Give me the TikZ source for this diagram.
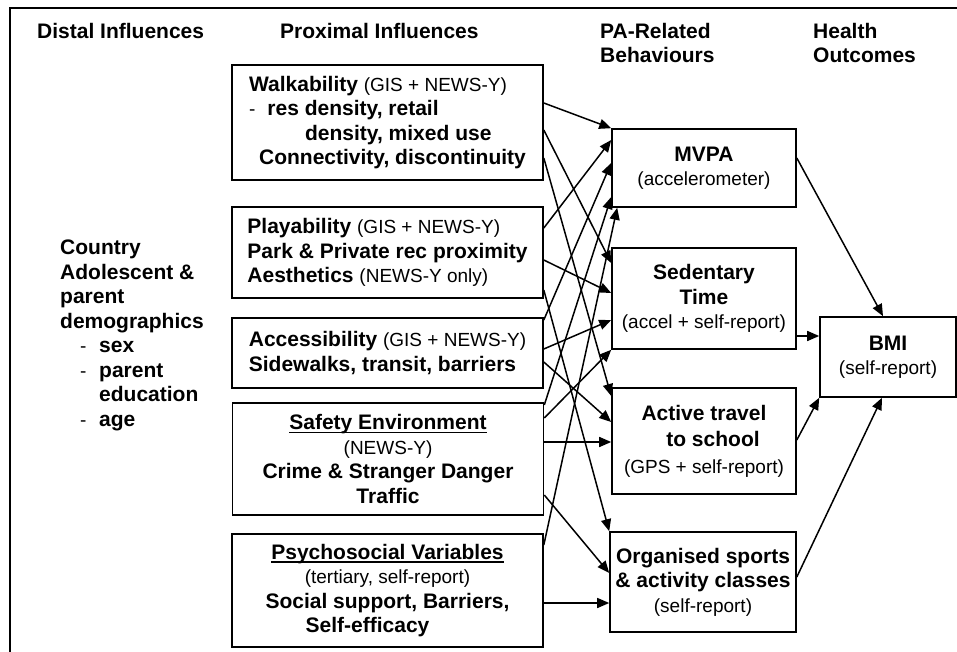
\documentclass[tikz,border=0pt]{standalone}
\usepackage{fontspec}
\setmainfont{Liberation Sans}
\usetikzlibrary{arrows.meta}
\newcommand{\bodyfont}{\fontsize{21}{24.5}\selectfont\bfseries}
\newcommand{\meas}[1]{{\fontsize{19}{24.5}\selectfont\mdseries #1}}
\newcommand{\uln}[1]{\setbox0\hbox{#1}\rlap{\rule[-3.5pt]{\wd0}{1.5pt}}\box0}
\tikzstyle{envbox} = [rectangle, draw=black, line width=1.6pt, minimum width=311pt, inner xsep=3pt, inner ysep=0pt, align=left, font=\bodyfont]
\tikzstyle{behbox} = [rectangle, draw=black, line width=1.6pt, minimum width=184pt, inner xsep=3pt, inner ysep=0pt, align=center, font=\bodyfont]
\tikzstyle{head} = [align=left, inner sep=0pt, anchor=north west, font=\bodyfont]
\tikzstyle{arrow} = [line width=1.5pt, -{Triangle[length=12pt,width=10pt]}]

\begin{document}
\begin{tikzpicture}[x=1pt, y=-1pt]
\useasboundingbox (0,0) rectangle (957,652);
\draw[line width=1.4pt] (10,652) -- (10,8) -- (957,8);

%headings
\node[head] (distalhead) at (37,23) {Distal Influences};
\node[head] (proxhead) at (280,23) {Proximal Influences};
\node[head] (pahead) at (600,23) {PA-Related\\Behaviours};
\node[head] (healthhead) at (813,23) {Health\\Outcomes};

%Distal
\node[head] (distal) at (60,240) {Country\\Adolescent \&\\parent\\demographics\\
  \hspace*{20pt}\meas{-}\hspace{12.7pt}sex\\
  \hspace*{20pt}\meas{-}\hspace{12.7pt}parent\\
  \hspace*{39pt}education\\
  \hspace*{20pt}\meas{-}\hspace{12.7pt}age};

%Proximal
\node(walk)[envbox, minimum height=115pt] at (387.5,122.5) {Walkability \meas{(GIS + NEWS-Y)}\\
  \meas{-}\hspace{12pt}res density, retail\\
  \hspace*{56pt}density, mixed use\\
  \hspace*{10pt}Connectivity, discontinuity};
\node(play)[envbox, minimum height=91pt] at (387.5,252.5) {Playability \meas{(GIS + NEWS-Y)}\\Park \& Private rec proximity\\Aesthetics \meas{(NEWS-Y only)}};
\node(access)[envbox, minimum height=70pt] at (387.5,353) {Accessibility \meas{(GIS + NEWS-Y)}\\Sidewalks, transit, barriers};
\node(safety)[envbox, align=center, minimum height=112pt] at (388,459) {\uln{Safety Environment}\\\meas{(NEWS-Y)}\\Crime \& Stranger Danger\\Traffic};
\node(psycho)[envbox, align=center, minimum height=113pt] at (387.5,590.5) {\uln{Psychosocial Variables}\\\meas{(tertiary, self-report)}\\Social support, Barriers,\\Self-efficacy\hspace*{40pt}};

%Behaviours
\node(mvpa)[behbox, minimum height=78pt] at (704,168) {MVPA\\\meas{(accelerometer)}};
\node(sed)[behbox, minimum height=101pt] at (704,298.5) {Sedentary\\Time\hspace*{10pt}\\\meas{(accel + self-report)}};
\node(travel)[behbox, minimum height=106pt] at (704,441) {Active travel\\[2pt]\hspace*{18pt}to school\\[2pt]\meas{(GPS + self-report)}};
\node(sports)[behbox, minimum width=186pt, minimum height=100pt] at (703,582) {Organised sports\\\& activity classes\\\meas{(self-report)}};

%Outcomes
\node(bmi)[behbox, minimum width=136pt, minimum height=80pt] at (888,357) {BMI\\\meas{(self-report)}};

%arrows
\draw[arrow](walk.east |- 0,103)--(mvpa.north west);
\draw[arrow](walk.east |- 0,130)--(sed.west |- 0,263);
\draw[arrow](walk.east |- 0,158)--(travel.west |- 0,396);
\draw[arrow](play.east |- 0,228)--(mvpa.west |- 0,140);
\draw[arrow](play.east |- 0,260)--(sed.west |- 0,293);
\draw[arrow](play.east |- 0,290)--(sports.north west);
\draw[arrow](access.east |- 0,320)--(mvpa.west |- 0,163);
\draw[arrow](access.east |- 0,349)--(sed.west |- 0,320);
\draw[arrow](access.east |- 0,362)--(travel.west |- 0,422);
\draw[arrow](safety.east |- 0,405)--(mvpa.west |- 0,197);
\draw[arrow](safety.east |- 0,418)--(sed.south west);
\draw[arrow](safety.east |- 0,442)--(travel.west |- 0,442);
\draw[arrow](safety.east |- 0,495)--(sports.west |- 0,573);
\draw[arrow](psycho.east |- 0,545)--([xshift=6pt]mvpa.south west);
\draw[arrow](psycho.east |- 0,603)--(sports.west |- 0,603);

\draw[arrow](mvpa.east |- 0,158)--([xshift=-5pt]bmi.north);
\draw[arrow](sed.east |- 0,336)--(bmi.west |- 0,336);
\draw[arrow](travel.east |- 0,440)--(bmi.south west);
\draw[arrow](sports.east |- 0,577)--([xshift=-6pt]bmi.south);
\end{tikzpicture}
\end{document}
